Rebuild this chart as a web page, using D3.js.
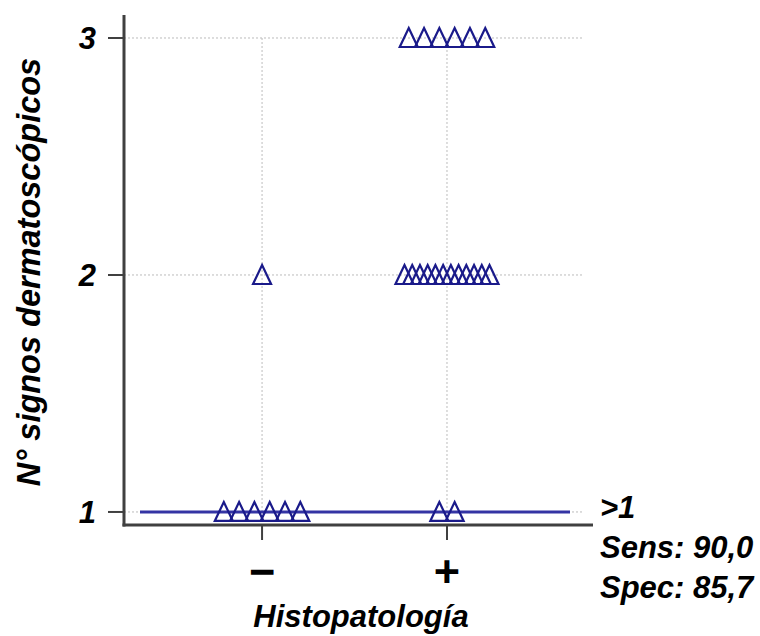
<!DOCTYPE html>
<html lang="es">
<head>
    <meta charset="UTF-8">
    <title>N° signos dermatoscópicos vs Histopatología</title>
    <script src="https://cdn.jsdelivr.net/npm/d3@7/dist/d3.min.js"></script>
    <style>
        body { margin: 0; background: #fff; }
        svg { display: block; }
        text { font-family: "Liberation Sans", Arial, sans-serif; font-weight: bold; }
    </style>
</head>
<body>
    <svg id="chart" width="760" height="636"></svg>
    <script>
        // groups on the x axis (histopathology result)
        const groups = ["−", "+"];
        // number of dermoscopic signs per case, one entry per case
        const negValues = [2, 1, 1, 1, 1, 1, 1];
        const posValues = [3, 3, 3, 3, 3, 3,
                           2, 2, 2, 2, 2, 2, 2, 2, 2, 2, 2, 2,
                           1, 1];
        const yTicks = [1, 2, 3];
        const cutoff = 1;
        const notes = [">1", "Sens: 90,0", "Spec: 85,7"];

        const svg = d3.select("#chart");
        const plotLeft = 124, plotRight = 593, plotTop = 15, plotBottom = 525;

        const x = d3.scalePoint().domain(groups).range([plotLeft, plotRight]).padding(0.768).align(0.486);
        const y = d3.scaleLinear().domain([0.945, 3.097]).range([plotBottom, plotTop]);

        // grid
        const grid = svg.append("g").attr("stroke", "#bcbcbc").attr("stroke-width", 1).attr("stroke-dasharray", "2,2");
        grid.selectAll(".hg").data(yTicks).enter().append("line")
            .attr("x1", plotLeft).attr("x2", 583)
            .attr("y1", d => y(d)).attr("y2", d => y(d));
        grid.selectAll(".vg").data(groups).enter().append("line")
            .attr("x1", d => x(d)).attr("x2", d => x(d))
            .attr("y1", y(3)).attr("y2", y(1));

        // cut-off line
        svg.append("line")
            .attr("x1", plotLeft + 16).attr("x2", 570)
            .attr("y1", y(cutoff)).attr("y2", y(cutoff))
            .attr("stroke", "#3434a4").attr("stroke-width", 3);

        // points, spread side by side within each value
        function spread(values, g) {
            const pts = [];
            d3.groups(values, v => v).forEach(([v, arr]) => {
                const n = arr.length;
                const step = n > 1 ? Math.min(15.3, 85 / (n - 1)) : 0;
                arr.forEach((_, i) => pts.push({ g, v, dx: (i - (n - 1) / 2) * step }));
            });
            return pts;
        }
        const points = spread(negValues, "−").concat(spread(posValues, "+"));

        svg.append("g").selectAll("path").data(points).enter().append("path")
            .attr("transform", d => `translate(${x(d.g) + d.dx},${y(d.v)})`)
            .attr("d", "M0,-10L9,9L-9,9Z")
            .attr("fill", "none")
            .attr("stroke", "#1a1a8a")
            .attr("stroke-width", 2.2)
            .attr("stroke-linejoin", "miter");

        // axes
        const axisColor = "#404040";
        svg.append("line").attr("x1", plotLeft).attr("x2", plotLeft).attr("y1", plotTop).attr("y2", plotBottom + 1.5)
            .attr("stroke", axisColor).attr("stroke-width", 3);
        svg.append("line").attr("x1", plotLeft - 1.5).attr("x2", plotRight).attr("y1", plotBottom).attr("y2", plotBottom)
            .attr("stroke", axisColor).attr("stroke-width", 3);

        svg.append("g").selectAll("line").data(yTicks).enter().append("line")
            .attr("x1", plotLeft - 16).attr("x2", plotLeft)
            .attr("y1", d => y(d)).attr("y2", d => y(d))
            .attr("stroke", axisColor).attr("stroke-width", 2);
        svg.append("g").selectAll("line").data(groups).enter().append("line")
            .attr("x1", d => x(d)).attr("x2", d => x(d))
            .attr("y1", plotBottom).attr("y2", plotBottom + 15)
            .attr("stroke", axisColor).attr("stroke-width", 2);

        svg.append("g").selectAll("text").data(yTicks).enter().append("text")
            .attr("x", 96).attr("y", d => y(d)).attr("dy", "0.36em")
            .attr("text-anchor", "end").attr("font-style", "italic").attr("font-size", 31)
            .text(d => d);

        svg.append("g").selectAll("text").data(groups).enter().append("text")
            .attr("x", d => x(d)).attr("y", 587)
            .attr("text-anchor", "middle").attr("font-size", 45)
            .text(d => d);

        // titles
        svg.append("text")
            .attr("x", 361).attr("y", 627)
            .attr("text-anchor", "middle").attr("font-style", "italic").attr("font-size", 31)
            .text("Histopatología");
        svg.append("text")
            .attr("transform", "translate(40,272) rotate(-90)")
            .attr("text-anchor", "middle").attr("font-style", "italic").attr("font-size", 32.5)
            .text("N° signos dermatoscópicos");

        // cut-off annotation
        svg.append("g").selectAll("text").data(notes).enter().append("text")
            .attr("x", 600).attr("y", (d, i) => 518 + i * 40)
            .attr("font-style", "italic").attr("font-size", 31)
            .text(d => d);
    </script>
</body>
</html>
